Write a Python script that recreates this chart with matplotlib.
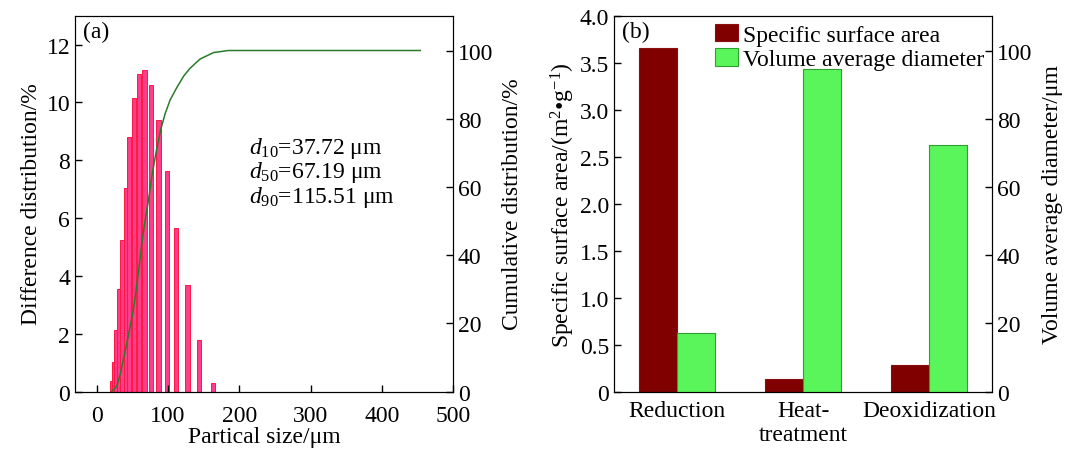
import matplotlib
matplotlib.use("Agg")
import matplotlib.pyplot as plt
import numpy as np

plt.rcParams['font.family'] = ['Liberation Serif', 'DejaVu Serif']
plt.rcParams['mathtext.fontset'] = 'custom'
plt.rcParams['mathtext.rm'] = 'Liberation Serif'
plt.rcParams['mathtext.it'] = 'Liberation Serif:italic'
plt.rcParams['font.size'] = 17

# (a) particle size distribution
size_um = [20.5, 23.4, 26.6, 30.4, 35.5, 40.7, 45.8, 51.9, 58.9, 66.9,
           76.3, 86.6, 98.7, 111.4, 127.3, 143.7, 163.4]
diff_pct = [0.35, 1.02, 2.12, 3.53, 5.23, 7.04, 8.79, 10.14, 10.98, 11.11,
            10.60, 9.38, 7.63, 5.65, 3.69, 1.78, 0.31]
cum_size = [21, 28, 33, 37.5, 44, 51.5, 58, 63, 67, 72.5, 78, 84, 90, 96,
            103, 112, 122, 131, 145, 164, 185, 250, 350, 454]
cum_pct = [0, 1.5, 5, 9.5, 16, 24, 34, 43, 49, 56, 64, 71, 77, 81.5,
           85.5, 89, 92.5, 94.8, 97.5, 99.4, 100, 100, 100, 100]
d_text = ['$d_{10}$=37.72 μm', '$d_{50}$=67.19 μm', '$d_{90}$=115.51 μm']

# (b) process comparison
stages = ['Reduction', 'Heat-\ntreatment', 'Deoxidization']
ssa = [3.66, 0.128, 0.285]
vad = [17.2, 94.6, 72.4]

fig = plt.figure(figsize=(10.67, 4.52), dpi=100)

# ---- panel a
ax = fig.add_axes([0.0703, 0.1316, 0.3543, 0.8314])
x = np.array(size_um)
widths = np.minimum(np.gradient(x), 6.0)
ax.bar(x, diff_pct, width=widths, color='#ff3d8b', edgecolor='#ff1744', linewidth=0.7)
ax.set_xlim(-30.5, 500)
ax.set_ylim(0, 13)
ax.set_xticks([0, 100, 200, 300, 400, 500])
ax.set_yticks([0, 2, 4, 6, 8, 10, 12])
ax.set_xlabel('Partical size/μm', labelpad=0)
ax.set_ylabel('Difference distribution/%', labelpad=3)
ax.tick_params(direction='in', length=5, width=1)
ax.tick_params(axis='x', pad=10)
ax.text(0.02, 0.985, '(a)', transform=ax.transAxes, va='top', ha='left')
ax.text(0.46, 0.585, '\n'.join(d_text), transform=ax.transAxes, va='center',
        ha='left', linespacing=0.98)

ax2 = ax.twinx()
ax2.plot(cum_size, cum_pct, color='#2a7a2a', lw=1.1)
ax2.set_ylim(0, 110.2)
ax2.set_yticks([0, 20, 40, 60, 80, 100])
ax2.set_ylabel('Cumulative distribution/%', labelpad=6)
ax2.tick_params(direction='in', length=5, width=1)

# ---- panel b
bx = fig.add_axes([0.5755, 0.1316, 0.3543, 0.8314])
pos = np.arange(len(stages))
w = 0.3
b1 = bx.bar(pos - w / 2, ssa, width=w, color='#800000', edgecolor='#8a1010',
            linewidth=0.8, label='Specific surface area')
bx.set_xlim(-0.5, 2.5)
bx.set_ylim(0, 4.0)
bx.set_yticks(np.arange(0, 4.01, 0.5))
bx.set_yticklabels(['0'] + ['%.1f' % v for v in np.arange(0.5, 4.01, 0.5)])
bx.set_xticks(pos)
bx.set_xticklabels(stages, linespacing=1.2)
bx.tick_params(axis='y', direction='in', length=5, width=1)
bx.tick_params(axis='x', length=0, pad=6)
bx.set_ylabel('Specific surface area/(m$^{2}$•g$^{-1}$)', labelpad=2)
bx.text(0.02, 0.985, '(b)', transform=bx.transAxes, va='top', ha='left')

bx2 = bx.twinx()
b2 = bx2.bar(pos + w / 2, vad, width=w, color='#5af55a', edgecolor='#2ea02e',
             linewidth=0.8, label='Volume average diameter')
bx2.set_ylim(0, 110.2)
bx2.set_yticks([0, 20, 40, 60, 80, 100])
bx2.set_ylabel('Volume average diameter/μm', labelpad=7)
bx2.tick_params(direction='in', length=5, width=1)
bx2.legend([b1, b2], ['Specific surface area', 'Volume average diameter'],
           loc='upper right', bbox_to_anchor=(1.0, 1.0), frameon=False,
           handlelength=0.95, handleheight=0.75, handletextpad=0.2,
           labelspacing=0.1, borderpad=0.15, borderaxespad=0.2)

fig.savefig('out.png', dpi=100)
